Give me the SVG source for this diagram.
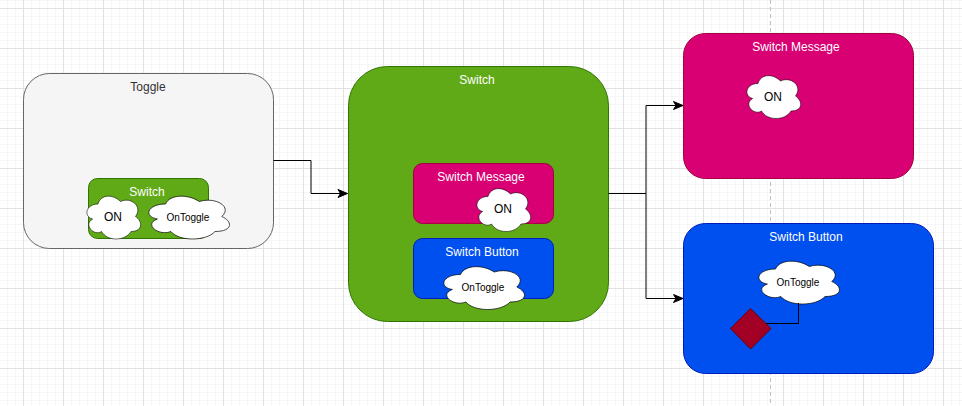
<svg xmlns="http://www.w3.org/2000/svg" xmlns:xlink="http://www.w3.org/1999/xlink" width="962" height="406" viewBox="0 0 962 406">
<style>
text{font-family:"Liberation Sans",Arial,sans-serif;font-size:12px;text-anchor:middle}
.w{fill:#fff}
.k{fill:#000}
.s{font-size:10px}
.grey{fill:#f5f5f5;stroke:#666}
.green{fill:#60a917;stroke:#2d7600}
.pink{fill:#d80073;stroke:#a50040}
.blue{fill:#0050ef;stroke:#001dbc}
.cloud{fill:#fff;stroke:#000;stroke-width:1;vector-effect:non-scaling-stroke}
.line{fill:none;stroke:#000;stroke-width:1}
</style>
<defs>
<pattern id="minor" width="8" height="8" patternUnits="userSpaceOnUse" x="7" y="0">
<path d="M0.5 0V8M0 0.5H8" fill="none" stroke="#f6f6f6" stroke-width="1"/>
</pattern>
<pattern id="major" width="40" height="40" patternUnits="userSpaceOnUse" x="23" y="8">
<path d="M0.5 0V40M0 0.5H40" fill="none" stroke="#e2e2e2" stroke-width="1"/>
</pattern>
<path id="c" d="M25 25C5 25 0 50 16 55C0 66 18 90 31 80C40 100 70 100 80 80C100 80 100 60 87.500 50C100 30 80 10 62.500 20C50 5 30 5 25 25Z"/>
<marker id="arrow" markerUnits="userSpaceOnUse" markerWidth="12" markerHeight="12" refX="10.500" refY="6" orient="auto">
<path d="M1 2L10.500 6L1 10L3.500 6Z" fill="#000" stroke="#000"/>
</marker>
</defs>
<rect width="962" height="406" fill="#fff"/>
<rect width="962" height="406" fill="url(#minor)"/>
<rect width="962" height="406" fill="url(#major)"/>
<path d="M770.500 0V406" fill="none" stroke="#c0c0c0" stroke-dasharray="4 3"/>

<g id="toggle">
<rect class="grey" x="23.500" y="73.500" width="250" height="175" rx="26"/>
<text x="148" y="91" fill="#333">Toggle</text>
</g>
<g id="toggle-switch">
<rect class="green" x="88.500" y="178.500" width="120" height="60" rx="9"/>
<text class="w" x="147" y="196">Switch</text>
</g>
<g id="toggle-on">
<use xlink:href="#c" class="cloud" transform="translate(83 191.500) scale(.6 .5)"/>
<text class="k" x="113" y="221">ON</text>
</g>
<g id="toggle-ontoggle">
<use xlink:href="#c" class="cloud" transform="translate(143 191.500) scale(.9 .5)"/>
<text class="k s" x="188" y="221">OnToggle</text>
</g>

<g id="switch">
<rect class="green" x="348.500" y="66.500" width="260" height="255" rx="39"/>
<text class="w" x="477" y="84">Switch</text>
</g>
<g id="switch-message">
<rect class="pink" x="413.500" y="163.500" width="140" height="60" rx="9"/>
<text class="w" x="481" y="181">Switch Message</text>
</g>
<g id="switch-message-on">
<use xlink:href="#c" class="cloud" transform="translate(473 184) scale(.6 .5)"/>
<text class="k" x="503" y="213">ON</text>
</g>
<g id="switch-button">
<rect class="blue" x="413.500" y="238.500" width="140" height="60" rx="9"/>
<text class="w" x="482" y="256">Switch Button</text>
</g>
<g id="switch-button-ontoggle">
<use xlink:href="#c" class="cloud" transform="translate(438 262) scale(.9 .5)"/>
<text class="k s" x="483" y="291">OnToggle</text>
</g>

<g id="message-panel">
<rect class="pink" x="683.500" y="33.500" width="230" height="145" rx="22"/>
<text class="w" x="796" y="51">Switch Message</text>
</g>
<g id="message-on">
<use xlink:href="#c" class="cloud" transform="translate(743 71) scale(.6 .5)"/>
<text class="k" x="773" y="101">ON</text>
</g>
<g id="button-panel">
<rect class="blue" x="683.500" y="223.500" width="250" height="150" rx="22"/>
<text class="w" x="806" y="241">Switch Button</text>
</g>
<g id="button-ontoggle">
<use xlink:href="#c" class="cloud" transform="translate(753 256.500) scale(.9 .5)"/>
<text class="k s" x="798" y="286">OnToggle</text>
</g>
<g id="button-diamond">
<path d="M750.500 308.500L771 328.500L750.500 349L730.500 328.500Z" fill="#a20025" stroke="#6f0000"/>
</g>

<g id="connectors">
<path class="line" d="M273.500 160.500H311V193.500H347.500" marker-end="url(#arrow)"/>
<path class="line" d="M608.500 193.500H646V105.500H683" marker-end="url(#arrow)"/>
<path class="line" d="M646 193.500V298.500H683" marker-end="url(#arrow)"/>
<path class="line" d="M766 323.500H798.500V303"/>
</g>
</svg>
